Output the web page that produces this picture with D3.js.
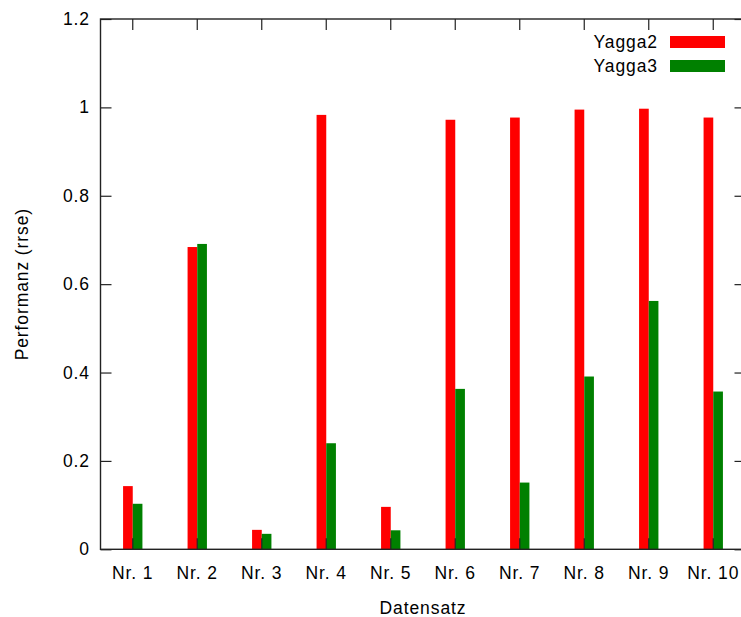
<!DOCTYPE html>
<html>
<head>
<meta charset="utf-8">
<script src="https://cdn.jsdelivr.net/npm/d3@7/dist/d3.min.js"></script>
<style>
  body { margin: 0; background: #fff; }
  svg text { font-family: "Liberation Sans", Arial, sans-serif; font-size: 17.5px; letter-spacing: 0.9px; fill: #000; }
</style>
</head>
<body>
<svg id="chart" width="741" height="617"></svg>
<script>
// Datensätze und Performanzwerte (rrse)
const categories = ["Nr. 1", "Nr. 2", "Nr. 3", "Nr. 4", "Nr. 5", "Nr. 6", "Nr. 7", "Nr. 8", "Nr. 9", "Nr. 10"];
const yagga2 = [0.143, 0.684, 0.044, 0.983, 0.096, 0.972, 0.977, 0.995, 0.997, 0.977];
const yagga3 = [0.103, 0.691, 0.035, 0.240, 0.043, 0.363, 0.151, 0.391, 0.562, 0.357];
const yTicks = [0, 0.2, 0.4, 0.6, 0.8, 1, 1.2];
const seriesNames = ["Yagga2", "Yagga3"];
const seriesColors = ["#ff0000", "#008000"];

const svg = d3.select("#chart");
const plotL = 100.5, plotR = 745.5, plotT = 19, plotB = 549.3;
const tickLen = 11;

const x = d3.scaleBand().domain(categories).range([plotL, plotR]).paddingInner(0).paddingOuter(0);
const y = d3.scaleLinear().domain([0, 1.2]).range([plotB, plotT]);
const barW = x.bandwidth() * 0.15;
const cx = c => x(c) + x.bandwidth() / 2;

// Balken
const series = [yagga2, yagga3];
series.forEach((vals, si) => {
  svg.append("g").selectAll("rect")
    .data(categories.map((c, i) => ({ c, v: vals[i] })))
    .join("rect")
    .attr("x", d => si === 0 ? cx(d.c) - barW : cx(d.c))
    .attr("y", d => y(d.v))
    .attr("width", barW)
    .attr("height", d => y(0) - y(d.v))
    .attr("fill", seriesColors[si]);
});

// Achsen (Ticks nach innen, gespiegelt)
const axisStyle = g => {
  g.select(".domain").remove();
  g.selectAll("line").attr("stroke", "#222").attr("stroke-width", 1.2);
  g.selectAll("text").attr("fill", "#000");
};
svg.append("g").attr("transform", `translate(${plotL},0)`)
  .call(d3.axisLeft(y).tickValues(yTicks).tickSize(-tickLen).tickPadding(10.5).tickFormat(d3.format("~g")))
  .call(axisStyle)
  .call(g => g.selectAll("text").style("font-size", "17.5px").style("font-family", null));
svg.append("g").attr("transform", `translate(${plotR},0)`)
  .call(d3.axisRight(y).tickValues(yTicks).tickSize(-tickLen).tickFormat(""))
  .call(axisStyle);
svg.append("g").attr("transform", `translate(0,${plotB})`)
  .call(d3.axisBottom(x).tickSize(-tickLen).tickPadding(17))
  .call(axisStyle)
  .call(g => g.selectAll("text").style("font-size", "17.5px").style("font-family", null));
svg.append("g").attr("transform", `translate(0,${plotT})`)
  .call(d3.axisTop(x).tickSize(-tickLen).tickFormat(""))
  .call(axisStyle);

// Rahmen
svg.append("rect")
  .attr("x", plotL).attr("y", plotT)
  .attr("width", plotR - plotL).attr("height", plotB - plotT)
  .attr("fill", "none").attr("stroke", "#222").attr("stroke-width", 1.4);

// Achsenbeschriftungen
svg.append("text")
  .attr("x", (plotL + plotR) / 2).attr("y", 614)
  .attr("text-anchor", "middle")
  .text("Datensatz");
svg.append("text")
  .attr("transform", `translate(28,${(plotT + plotB) / 2}) rotate(-90)`)
  .attr("text-anchor", "middle")
  .text("Performanz (rrse)");

// Legende
const legend = svg.append("g");
seriesNames.forEach((name, i) => {
  const yc = 42 + i * 24;
  legend.append("text")
    .attr("x", 658).attr("y", yc + 6)
    .attr("text-anchor", "end")
    .text(name);
  legend.append("rect")
    .attr("x", 670).attr("y", yc - 6)
    .attr("width", 55).attr("height", 12)
    .attr("fill", seriesColors[i]);
});
</script>
</body>
</html>
